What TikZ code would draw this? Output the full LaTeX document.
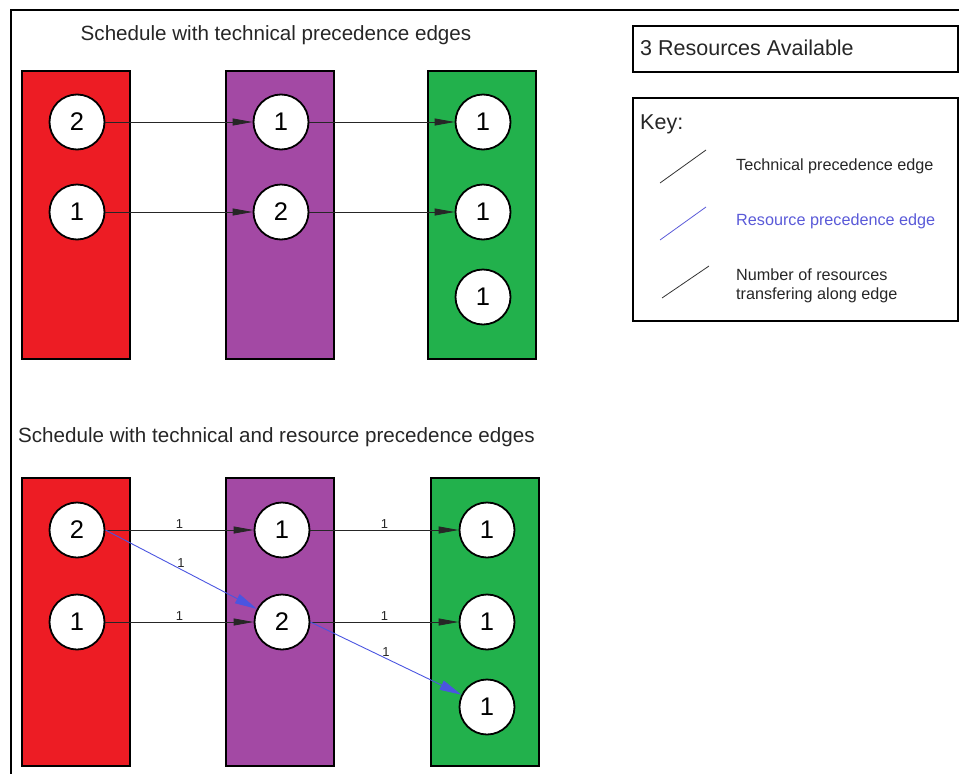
\documentclass[tikz,border=0pt]{standalone}
\usepackage{fontspec}
\setmainfont{Liberation Sans}
\usetikzlibrary{arrows.meta}
\definecolor{lanered}{HTML}{ED1C24}
\definecolor{lanepurple}{HTML}{A349A4}
\definecolor{lanegreen}{HTML}{22B14C}
\definecolor{resblue}{HTML}{4B55E0}
\definecolor{keyblue}{HTML}{5A5AD8}
\begin{document}
\begin{tikzpicture}[x=1pt,y=-1pt,
  lane/.style={draw=black, line width=2pt, anchor=north west, minimum width=108pt, minimum height=288pt, inner sep=0pt},
  task/.style={circle, draw=black, line width=1.8pt, fill=white, minimum size=55pt, inner sep=0pt, font=\fontsize{25.5}{26}\selectfont},
  tech/.style={-{Triangle[length=20pt,width=7pt]}, line width=0.8pt, draw=black!85},
  res/.style={-{Triangle[length=22pt,width=10pt]}, line width=0.9pt, draw=resblue, color=resblue},
  lbl/.style={font=\fontsize{13}{13}\selectfont, text=black!85, inner sep=1.5pt},
  title/.style={font=\fontsize{20.6}{23}\selectfont, text=black!85, inner sep=0pt},
  keytext/.style={font=\fontsize{16.2}{18.5}\selectfont, text=black!85, anchor=west, inner sep=0pt, align=left},
  bigtext/.style={keytext, font=\fontsize{21.5}{24}\selectfont},
  box/.style={draw=black, line width=2pt},
  keyline/.style={line width=0.8pt}
]
\useasboundingbox (0,0) rectangle (959,774);

% outer frame
\draw[line width=2pt] (11,774) -- (11,10) -- (959,10);

% ---------- upper schedule ----------
\node[title] (t1) at (276,35) {Schedule with technical precedence edges};
\node[lane, fill=lanered]    (ra) at (21,70)  {};
\node[lane, fill=lanepurple] (pa) at (225,70) {};
\node[lane, fill=lanegreen]  (ga) at (427,70) {};

\node[task] (ra2) at (77,122)  {2};
\node[task] (ra1) at (77,212)  {1};
\node[task] (pa1) at (281,122) {1};
\node[task] (pa2) at (281,212) {2};
\node[task] (ga1) at (483,122) {1};
\node[task] (ga2) at (483,212) {1};
\node[task] (ga3) at (483,297) {1};

\draw[tech] (ra2.east) -- (pa1.west);
\draw[tech] (ra1.east) -- (pa2.west);
\draw[tech] (pa1.east) -- (ga1.west);
\draw[tech] (pa2.east) -- (ga2.west);

% ---------- lower schedule ----------
\node[title, anchor=west] (t2) at (18,437) {Schedule with technical and resource precedence edges};
\node[lane, fill=lanered]    (rb) at (21,477)  {};
\node[lane, fill=lanepurple] (pb) at (225,477) {};
\node[lane, fill=lanegreen]  (gb) at (430,477) {};

\node[task] (rb2) at (77,530)  {2};
\node[task] (rb1) at (77,622)  {1};
\node[task] (pb1) at (282,530) {1};
\node[task] (pb2) at (282,622) {2};
\node[task] (gb1) at (487,530) {1};
\node[task] (gb2) at (487,622) {1};
\node[task] (gb3) at (487,707) {1};

\draw[tech] (rb2.east) -- node[lbl, above] {1} (pb1.west);
\draw[tech] (rb1.east) -- node[lbl, above] {1} (pb2.west);
\draw[tech] (pb1.east) -- node[lbl, above] {1} (gb1.west);
\draw[tech] (pb2.east) -- node[lbl, above] {1} (gb2.west);
\draw[res] (rb2.east) -- node[lbl, above, pos=0.5] {1} (pb2);
\draw[res] (pb2.east) -- node[lbl, above, pos=0.5] {1} (gb3);

% ---------- resources box ----------
\node[box, anchor=north west, minimum width=325pt, minimum height=46pt, inner sep=0pt] (avail) at (632,25) {};
\node[bigtext] (availtext) at (640,48) {3 Resources Available};

% ---------- key ----------
\node[box, anchor=north west, minimum width=325pt, minimum height=223pt, inner sep=0pt] (key) at (632,97) {};
\node[bigtext] (keytitle) at (640,124) {Key:};

\coordinate (k1a) at (660,183); \coordinate (k1b) at (706,150);
\coordinate (k2a) at (660,240); \coordinate (k2b) at (706,207);
\coordinate (k3a) at (662,298); \coordinate (k3b) at (709,266);
\draw[keyline, black!80] (k1a) -- (k1b);
\draw[keyline, keyblue] (k2a) -- (k2b);
\draw[keyline, black!80] (k3a) -- (k3b);
\node[keytext] (k1t) at (736,166) {Technical precedence edge};
\node[keytext, text=keyblue] (k2t) at (736,221) {Resource precedence edge};
\node[keytext] (k3t) at (736,286) {Number of resources\\transfering along edge};
\end{tikzpicture}
\end{document}
